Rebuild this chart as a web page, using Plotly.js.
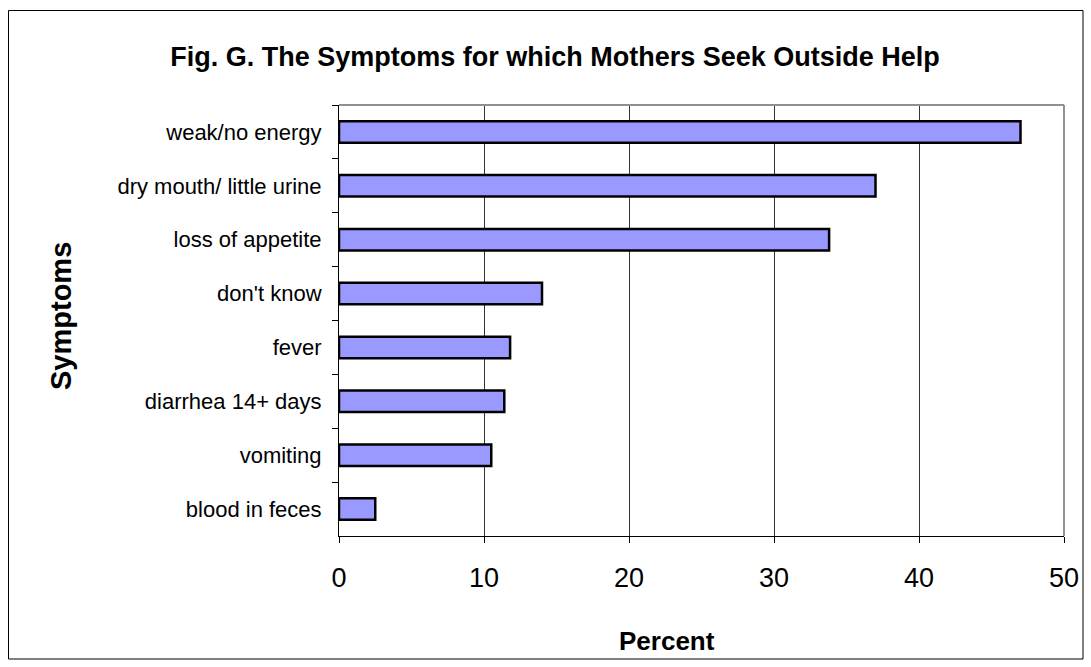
<!DOCTYPE html>
<html>
<head>
<meta charset="utf-8">
<script src="https://cdn.plot.ly/plotly-3.0.1.min.js"></script>
<style>html,body{margin:0;padding:0;background:#fff;}#chart{width:1091px;height:667px;}</style>
</head>
<body>
<div id="chart"></div>
<script>
const categories = ["weak/no energy", "dry mouth/ little urine", "loss of appetite", "don't know", "fever", "diarrhea 14+ days", "vomiting", "blood in feces"];
const percents = [47.0, 37.0, 33.8, 14.0, 11.8, 11.4, 10.5, 2.5];
const xTicks = [0, 10, 20, 30, 40, 50];

const FONT = 'Liberation Sans, Arial, sans-serif';
const trace = {
  type: 'bar',
  orientation: 'h',
  x: percents,
  y: categories,
  marker: {color: '#9999FF', line: {color: '#000000', width: 2.5}},
  hoverinfo: 'x+y'
};

const L = 339, R = 1064, T = 105, B = 536, W = 1091, H = 667;
const px = v => (v - L) / (R - L);
const py = v => (B - v) / (B - T);

const layout = {
  width: W, height: H,
  margin: {l: L, r: W - R, t: T, b: H - B, pad: 0},
  paper_bgcolor: '#ffffff', plot_bgcolor: '#ffffff',
  showlegend: false,
  bargap: 0.6,
  font: {family: FONT, color: '#000'},
  title: {text: '<b>Fig. G. The Symptoms for which Mothers Seek Outside Help</b>',
          font: {size: 27, family: FONT, color: '#000'},
          x: 555 / W, xref: 'container', xanchor: 'center', y: 1 - 57 / H, yref: 'container', yanchor: 'middle'},
  xaxis: {
    range: [0, 50], tickvals: xTicks, ticktext: xTicks.map(String),
    showgrid: true, gridcolor: '#333333', gridwidth: 1,
    zeroline: false, showline: true, linecolor: '#000000', linewidth: 1,
    ticks: 'outside', ticklen: 6, tickcolor: '#000', tickwidth: 1,
    tickfont: {size: 27, family: FONT},
    ticklabelstandoff: 12,
    fixedrange: true
  },
  yaxis: {
    type: 'category', autorange: 'reversed',
    showline: true, linecolor: '#000000', linewidth: 1,
    ticks: 'outside', ticklen: 6, tickcolor: '#000', tickwidth: 1, tickson: 'boundaries',
    tickfont: {size: 22, family: FONT},
    ticklabelstandoff: 12,
    showgrid: false, fixedrange: true
  },
  annotations: [
    {text: '<b>Symptoms</b>', xref: 'paper', yref: 'paper', x: px(61), y: py(316), textangle: -90,
     showarrow: false, xanchor: 'center', yanchor: 'middle', font: {size: 29, family: FONT, color: '#000'}},
    {text: '<b>Percent</b>', xref: 'paper', yref: 'paper', x: px(667), y: py(641),
     showarrow: false, xanchor: 'center', yanchor: 'middle', font: {size: 26, family: FONT, color: '#000'}}
  ],
  shapes: [
    {type: 'rect', xref: 'paper', yref: 'paper', x0: px(8.5), x1: px(1083), y0: py(659), y1: py(10.5),
     line: {color: '#000', width: 1}, fillcolor: 'rgba(0,0,0,0)', layer: 'below'},
    {type: 'line', xref: 'paper', yref: 'paper', x0: 0, x1: 1, y0: 1, y1: 1, line: {color: '#909090', width: 2}},
    {type: 'line', xref: 'paper', yref: 'paper', x0: 1, x1: 1, y0: 0, y1: 1, line: {color: '#909090', width: 2}}
  ]
};

Plotly.newPlot('chart', [trace], layout, {displayModeBar: false, staticPlot: true});
</script>
</body>
</html>
